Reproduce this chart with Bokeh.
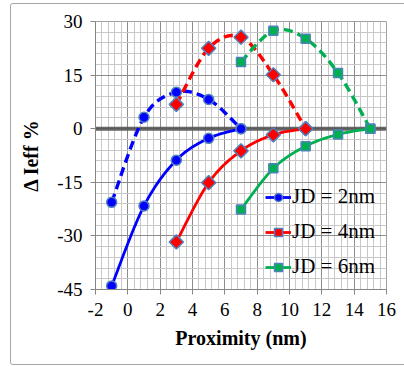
import numpy as np
from bokeh.plotting import figure
from bokeh.models import (SingleIntervalTicker, Span, Legend, LegendItem,
                          Range1d, InlineStyleSheet, PrintfTickFormatter)
from bokeh.embed import file_html
from bokeh.resources import INLINE

# Change in Ieff (%) against proximity (nm) for three junction depths
proximity_2 = [-1, 1, 3, 5, 7]
jd2_solid = [-44.0, -21.6, -8.8, -2.7, 0.0]
jd2_dashed = [-20.6, 3.2, 10.2, 8.2, 0.0]

proximity_4 = [3, 5, 7, 9, 11]
jd4_solid = [-31.7, -15.1, -6.2, -1.7, 0.0]
jd4_dashed = [6.8, 22.5, 25.6, 15.1, 0.0]

proximity_6 = [7, 9, 11, 13, 15]
jd6_solid = [-22.6, -11.1, -4.9, -1.6, 0.0]
jd6_dashed = [18.7, 27.4, 25.2, 15.6, 0.0]

series_labels = ["JD = 2nm", "JD = 4nm", "JD = 6nm"]

SERIF = "'Liberation Serif', 'Times New Roman', serif"
EDGE = "#4f81bd"


def smooth(xs, ys, n=24):
    """Bezier smoothing through the points (Catmull-Rom control points)."""
    pts = [np.array([x, y], dtype=float) for x, y in zip(xs, ys)]
    ext = [pts[0]] + pts + [pts[-1]]
    t = np.linspace(0, 1, n)[:, None]
    out = []
    for i in range(1, len(ext) - 2):
        p0, p1, p2, p3 = ext[i - 1], ext[i], ext[i + 1], ext[i + 2]
        c1 = p1 + (p2 - p0) / 6.0
        c2 = p2 - (p3 - p1) / 6.0
        seg = ((1 - t) ** 3) * p1 + 3 * ((1 - t) ** 2) * t * c1 \
            + 3 * (1 - t) * t ** 2 * c2 + t ** 3 * p2
        out.append(seg if i == 1 else seg[1:])
    arr = np.vstack(out)
    return arr[:, 0], arr[:, 1]


# thin rounded border around the whole chart
border_css = InlineStyleSheet(css="""
:host { position: relative; }
:host::after {
  content: ""; position: absolute; left: 10px; top: 3px;
  width: 400px; height: 362px; border: 1px solid #a6a6a6;
  border-radius: 3px; pointer-events: none; box-sizing: border-box;
}
""")

p = figure(width=404, height=367, output_backend="svg", toolbar_location=None,
           x_range=Range1d(-2, 16), y_range=Range1d(-45, 30),
           min_border_left=95, min_border_right=18, min_border_top=21,
           min_border_bottom=78, stylesheets=[border_css])
p.background_fill_color = "white"
p.border_fill_color = "white"
p.outline_line_color = "#a0a0a0"

p.xaxis.ticker = SingleIntervalTicker(interval=2, num_minor_ticks=5)
p.yaxis.ticker = SingleIntervalTicker(interval=15, num_minor_ticks=5)
p.xaxis.formatter = PrintfTickFormatter(format="%d")
p.yaxis.formatter = PrintfTickFormatter(format="%d")

for g in (p.xgrid, p.ygrid):
    g.grid_line_color = "#8c8c8c"
    g.grid_line_width = 1
    g.minor_grid_line_color = "#c8c8c8"
    g.minor_grid_line_width = 1

for ax in (p.xaxis, p.yaxis):
    ax.axis_line_color = "#868686"
    ax.major_tick_line_color = "#868686"
    ax.major_tick_out = 5
    ax.major_tick_in = 0
    ax.minor_tick_line_color = None
    ax.major_label_text_font = SERIF
    ax.major_label_text_font_size = "19px"
    ax.major_label_text_color = "black"
    ax.axis_label_text_font = SERIF
    ax.axis_label_text_font_size = "20px"
    ax.axis_label_text_font_style = "bold"
    ax.axis_label_text_color = "black"

p.xaxis.axis_label = "Proximity (nm)"
p.yaxis.axis_label = "Δ Ieff %"
p.xaxis.major_label_standoff = 8
p.yaxis.major_label_standoff = 8
p.xaxis.axis_label_standoff = 8
p.yaxis.axis_label_standoff = 12

# dark zero line
p.add_layout(Span(location=0, dimension="width", line_color="#555555",
                  line_width=4, line_alpha=0.9, level="underlay"))

colors = ["#0000ff", "#ff0000", "#00b050"]
markers = ["circle", "square", "square"]
angles = [0, np.pi / 4, 0]
sizes = [10, 10, 9]
xs_all = [proximity_2, proximity_4, proximity_6]
solid_all = [jd2_solid, jd4_solid, jd6_solid]
dashed_all = [jd2_dashed, jd4_dashed, jd6_dashed]

legend_items = []
for xs, sol, col, mk, ang, sz, lab in zip(xs_all, solid_all, colors, markers,
                                          angles, sizes, series_labels):
    sx, sy = smooth(xs, sol)
    ln = p.line(sx, sy, line_color=col, line_width=2.8)
    sc = p.scatter(xs, sol, marker=mk, size=sz, angle=ang, fill_color=col,
                   line_color=EDGE, line_width=1.5)
    legend_items.append(LegendItem(label=lab, renderers=[ln, sc]))

for xs, dsh, col, mk, ang, sz in zip(xs_all, dashed_all, colors, markers,
                                     angles, sizes):
    sx, sy = smooth(xs, dsh)
    p.line(sx, sy, line_color=col, line_width=3.4, line_dash="9 5")
    p.scatter(xs, dsh, marker=mk, size=sz, angle=ang, fill_color=col,
              line_color=EDGE, line_width=1.5)

legend = Legend(items=legend_items, location=(170, 10))
legend.background_fill_alpha = 0
legend.border_line_color = None
legend.padding = 0
legend.margin = 0
legend.spacing = 10
legend.glyph_width = 26
legend.glyph_height = 20
legend.label_height = 20
legend.label_standoff = 1
legend.label_text_font = SERIF
legend.label_text_font_size = "21px"
legend.label_text_color = "black"
p.add_layout(legend)

open("out.html", "w").write(file_html(p, INLINE))
